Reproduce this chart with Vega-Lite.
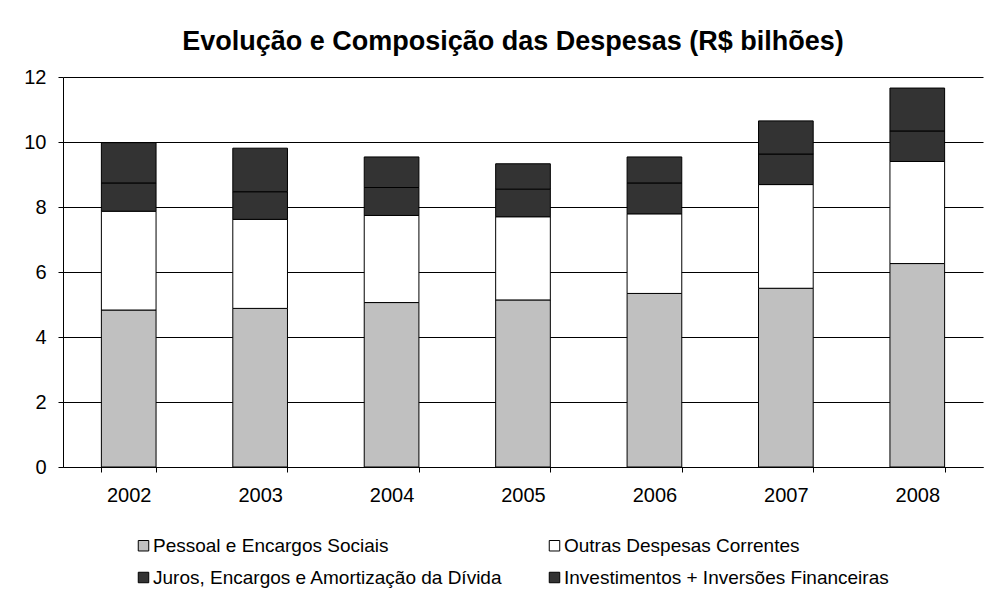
{
  "$schema": "https://vega.github.io/schema/vega-lite/v6.json",
  "width": 920,
  "height": 390,
  "autosize": "none",
  "padding": {"left": 63, "top": 77, "right": 4, "bottom": 125},
  "background": "white",
  "title": {
    "text": "Evolução e Composição das Despesas (R$ bilhões)",
    "font": "Liberation Sans",
    "fontSize": 27,
    "fontWeight": "bold",
    "color": "#000000",
    "anchor": "middle",
    "dx": -10,
    "offset": 11
  },
  "data": {
    "values": [
      {"ano": "2002", "serie": "Pessoal e Encargos Sociais", "valor": 4.83},
      {"ano": "2002", "serie": "Outras Despesas Correntes", "valor": 3.04},
      {"ano": "2002", "serie": "Juros, Encargos e Amortização da Dívida", "valor": 0.87},
      {"ano": "2002", "serie": "Investimentos + Inversões Financeiras", "valor": 1.24},
      {"ano": "2003", "serie": "Pessoal e Encargos Sociais", "valor": 4.88},
      {"ano": "2003", "serie": "Outras Despesas Correntes", "valor": 2.74},
      {"ano": "2003", "serie": "Juros, Encargos e Amortização da Dívida", "valor": 0.85},
      {"ano": "2003", "serie": "Investimentos + Inversões Financeiras", "valor": 1.34},
      {"ano": "2004", "serie": "Pessoal e Encargos Sociais", "valor": 5.06},
      {"ano": "2004", "serie": "Outras Despesas Correntes", "valor": 2.68},
      {"ano": "2004", "serie": "Juros, Encargos e Amortização da Dívida", "valor": 0.86},
      {"ano": "2004", "serie": "Investimentos + Inversões Financeiras", "valor": 0.94},
      {"ano": "2005", "serie": "Pessoal e Encargos Sociais", "valor": 5.14},
      {"ano": "2005", "serie": "Outras Despesas Correntes", "valor": 2.56},
      {"ano": "2005", "serie": "Juros, Encargos e Amortização da Dívida", "valor": 0.85},
      {"ano": "2005", "serie": "Investimentos + Inversões Financeiras", "valor": 0.78},
      {"ano": "2006", "serie": "Pessoal e Encargos Sociais", "valor": 5.34},
      {"ano": "2006", "serie": "Outras Despesas Correntes", "valor": 2.45},
      {"ano": "2006", "serie": "Juros, Encargos e Amortização da Dívida", "valor": 0.95},
      {"ano": "2006", "serie": "Investimentos + Inversões Financeiras", "valor": 0.80},
      {"ano": "2007", "serie": "Pessoal e Encargos Sociais", "valor": 5.50},
      {"ano": "2007", "serie": "Outras Despesas Correntes", "valor": 3.19},
      {"ano": "2007", "serie": "Juros, Encargos e Amortização da Dívida", "valor": 0.94},
      {"ano": "2007", "serie": "Investimentos + Inversões Financeiras", "valor": 1.02},
      {"ano": "2008", "serie": "Pessoal e Encargos Sociais", "valor": 6.26},
      {"ano": "2008", "serie": "Outras Despesas Correntes", "valor": 3.14},
      {"ano": "2008", "serie": "Juros, Encargos e Amortização da Dívida", "valor": 0.94},
      {"ano": "2008", "serie": "Investimentos + Inversões Financeiras", "valor": 1.32}
    ]
  },
  "mark": {"type": "bar", "stroke": "#000000", "strokeWidth": 1},
  "encoding": {
    "x": {
      "field": "ano",
      "type": "nominal",
      "title": null,
      "scale": {"paddingInner": 0.584, "paddingOuter": 0.292},
      "axis": {
        "labelAngle": 0,
        "labelFont": "Liberation Sans",
        "labelFontSize": 20,
        "labelColor": "#000000",
        "labelPadding": 13,
        "tickBand": "extent",
        "tickSize": 5,
        "tickColor": "#000000",
        "domainColor": "#000000",
        "grid": false
      }
    },
    "y": {
      "field": "valor",
      "type": "quantitative",
      "aggregate": "sum",
      "stack": "zero",
      "title": null,
      "scale": {"domain": [0, 12], "nice": false},
      "axis": {
        "values": [0, 2, 4, 6, 8, 10, 12],
        "labelFont": "Liberation Sans",
        "labelFontSize": 20,
        "labelColor": "#000000",
        "labelPadding": 12,
        "tickSize": 5,
        "tickColor": "#000000",
        "domainColor": "#000000",
        "gridColor": "#000000",
        "gridOpacity": 1,
        "gridWidth": 1
      }
    },
    "color": {
      "field": "serie",
      "type": "nominal",
      "sort": ["Pessoal e Encargos Sociais", "Outras Despesas Correntes", "Juros, Encargos e Amortização da Dívida", "Investimentos + Inversões Financeiras"],
      "scale": {
        "domain": ["Pessoal e Encargos Sociais", "Outras Despesas Correntes", "Juros, Encargos e Amortização da Dívida", "Investimentos + Inversões Financeiras"],
        "range": ["#C0C0C0", "#FFFFFF", "#333333", "#333333"]
      },
      "legend": {
        "title": null,
        "orient": "none",
        "legendX": 71,
        "legendY": 459,
        "direction": "horizontal",
        "columns": 2,
        "columnPadding": 42,
        "rowPadding": 12,
        "symbolType": "square",
        "symbolSize": 110,
        "symbolStrokeColor": "#000000",
        "symbolStrokeWidth": 1,
        "symbolOpacity": 1,
        "labelFont": "Liberation Sans",
        "labelFontSize": 19,
        "labelColor": "#000000",
        "labelOffset": 0,
        "labelLimit": 500
      }
    }
  },
  "config": {
    "view": {"stroke": null}
  }
}
